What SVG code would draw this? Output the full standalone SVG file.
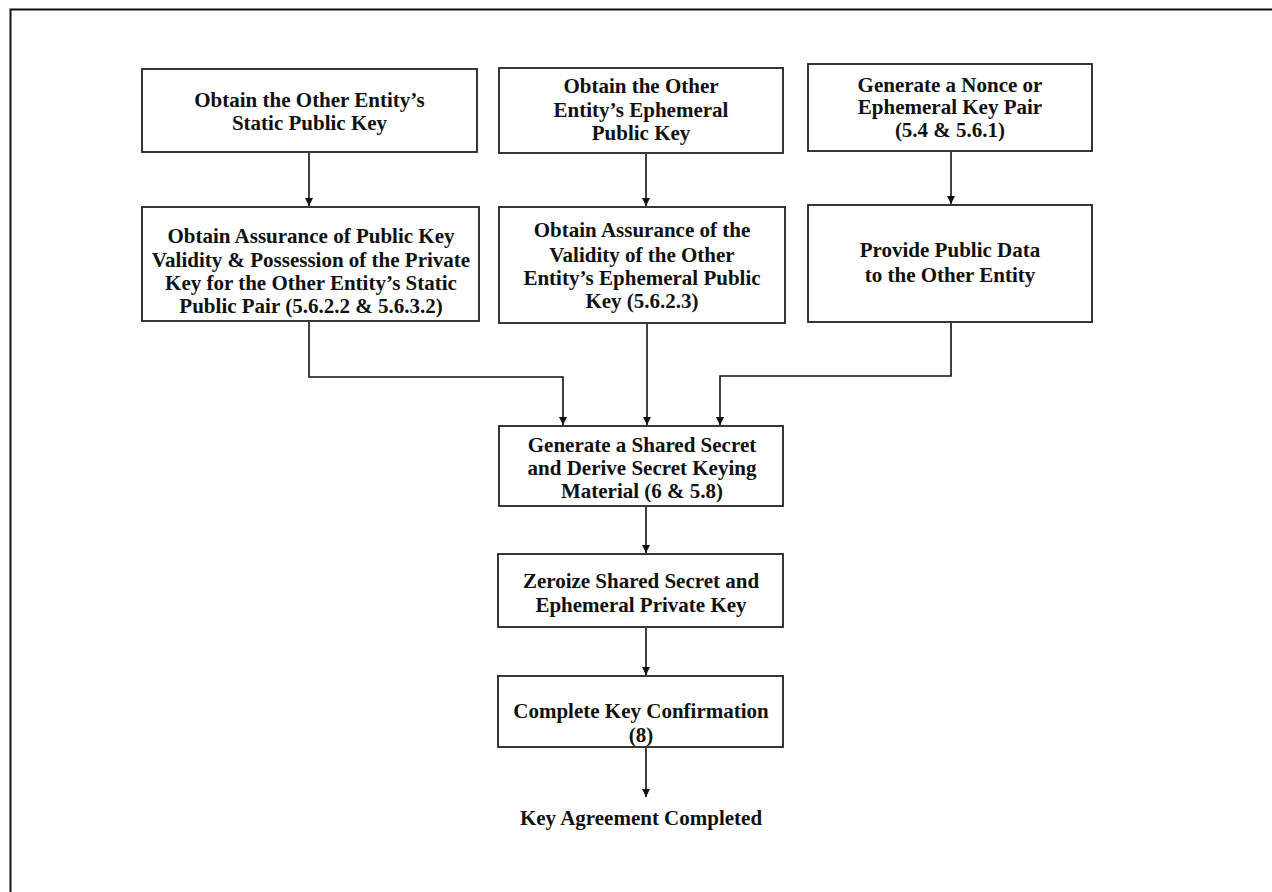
<svg xmlns="http://www.w3.org/2000/svg" width="1272" height="892" viewBox="0 0 1272 892">
<style>
.box{fill:#fff;stroke:#222;stroke-width:1.8}
.t{font-family:"Liberation Serif","Times New Roman",serif;font-weight:bold;font-size:21px;fill:#111;text-anchor:middle}
.c{fill:none;stroke:#111;stroke-width:1.6}
</style>
<defs>
<marker id="ah" viewBox="0 0 10 10" refX="10" refY="5" markerWidth="8" markerHeight="8" markerUnits="userSpaceOnUse" orient="auto">
<path d="M0,0 L10,5 L0,10 z" fill="#111"/>
</marker>
</defs>
<rect x="0" y="0" width="1272" height="892" fill="#fff"/>
<path d="M10.5,892 V9.5 H1272" fill="none" stroke="#111" stroke-width="2"/>
<g id="connectors">
<path class="c" d="M309,153 V206" marker-end="url(#ah)"/>
<path class="c" d="M646,154 V206" marker-end="url(#ah)"/>
<path class="c" d="M951,152 V204" marker-end="url(#ah)"/>
<path class="c" d="M309,322 V377 H563 V425" marker-end="url(#ah)"/>
<path class="c" d="M647,324 V425" marker-end="url(#ah)"/>
<path class="c" d="M951,323 V376 H720 V425" marker-end="url(#ah)"/>
<path class="c" d="M646,507 V553" marker-end="url(#ah)"/>
<path class="c" d="M646,628 V675" marker-end="url(#ah)"/>
<path class="c" d="M646,748 V797" marker-end="url(#ah)"/>
</g>
<g id="n1">
<rect class="box" x="142" y="69" width="335" height="83"/>
<text class="t" x="309.5" y="107">Obtain the Other Entity’s</text>
<text class="t" x="309.5" y="130">Static Public Key</text>
</g>
<g id="n2">
<rect class="box" x="142" y="207" width="337" height="114"/>
<text class="t" x="311" y="243">Obtain Assurance of Public Key</text>
<text class="t" x="311" y="267">Validity &amp; Possession of the Private</text>
<text class="t" x="311" y="290">Key for the Other Entity’s Static</text>
<text class="t" x="311" y="313">Public Pair (5.6.2.2 &amp; 5.6.3.2)</text>
</g>
<g id="n3">
<rect class="box" x="499" y="68" width="284" height="85"/>
<text class="t" x="641" y="93">Obtain the Other</text>
<text class="t" x="641" y="117">Entity’s Ephemeral</text>
<text class="t" x="641" y="140">Public Key</text>
</g>
<g id="n4">
<rect class="box" x="499" y="207" width="286" height="116"/>
<text class="t" x="642" y="237">Obtain Assurance of the</text>
<text class="t" x="642" y="262">Validity of the Other</text>
<text class="t" x="642" y="285">Entity’s Ephemeral Public</text>
<text class="t" x="642" y="308">Key (5.6.2.3)</text>
</g>
<g id="n5">
<rect class="box" x="808" y="64" width="284" height="87"/>
<text class="t" x="950" y="92">Generate a Nonce or</text>
<text class="t" x="950" y="114">Ephemeral Key Pair</text>
<text class="t" x="950" y="137">(5.4 &amp; 5.6.1)</text>
</g>
<g id="n6">
<rect class="box" x="808" y="205" width="284" height="117"/>
<text class="t" x="950" y="257">Provide Public Data</text>
<text class="t" x="950" y="282">to the Other Entity</text>
</g>
<g id="n7">
<rect class="box" x="499" y="426" width="284" height="80"/>
<text class="t" x="642" y="452">Generate a Shared Secret</text>
<text class="t" x="642" y="475">and Derive Secret Keying</text>
<text class="t" x="642" y="498">Material (6 &amp; 5.8)</text>
</g>
<g id="n8">
<rect class="box" x="498" y="554" width="285" height="73"/>
<text class="t" x="641" y="588">Zeroize Shared Secret and</text>
<text class="t" x="641" y="612">Ephemeral Private Key</text>
</g>
<g id="n9">
<rect class="box" x="498" y="676" width="285" height="71"/>
<text class="t" x="641" y="718">Complete Key Confirmation</text>
<text class="t" x="641" y="742">(8)</text>
</g>
<g id="n10">
<text class="t" x="641" y="825">Key Agreement Completed</text>
</g>
</svg>
